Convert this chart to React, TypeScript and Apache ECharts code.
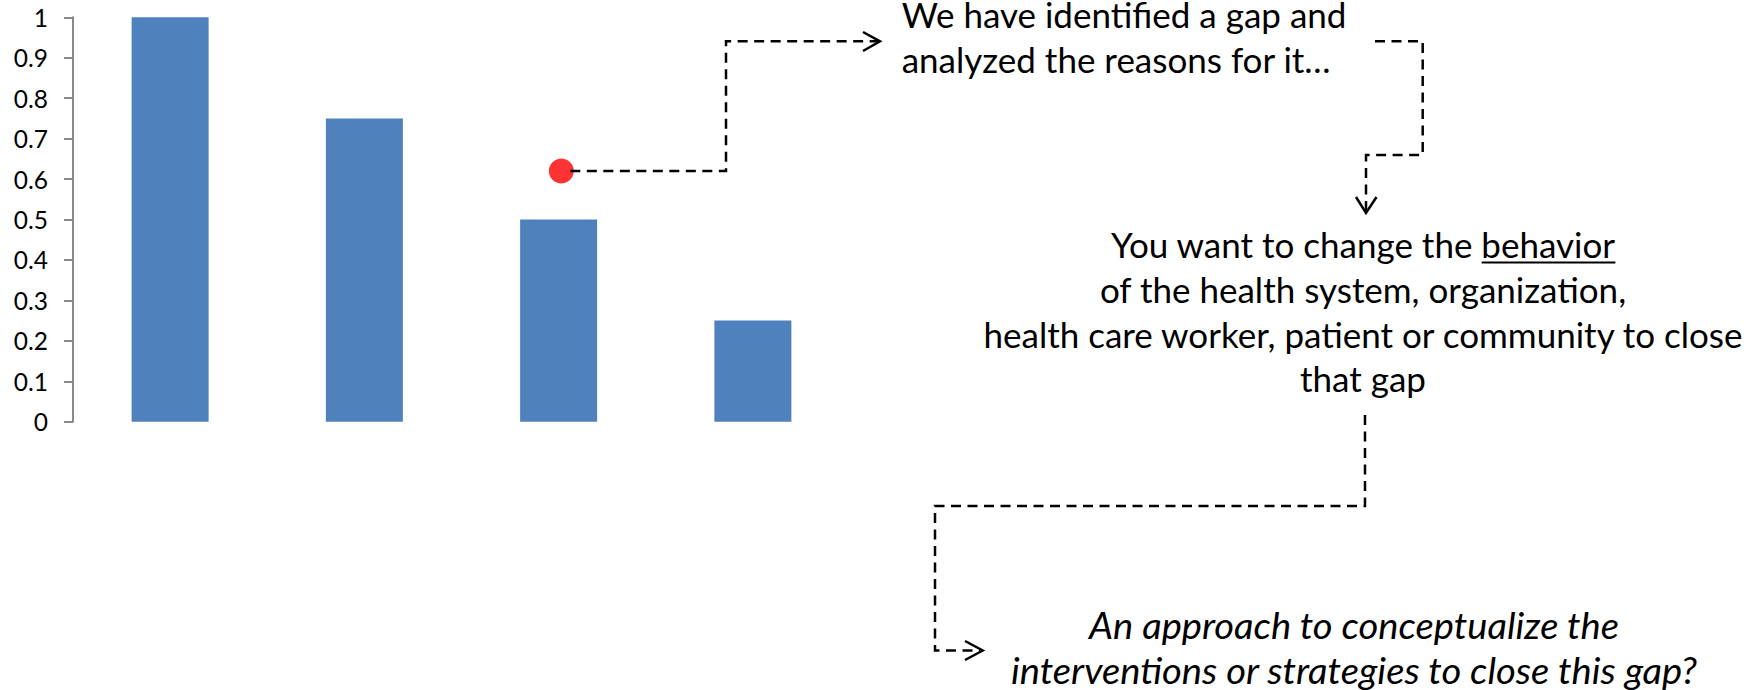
import React, { useEffect, useRef } from "react";
import * as echarts from "echarts";

// Bar chart data
const categories = ["A", "B", "C", "D"];
const barValues = [1, 0.75, 0.5, 0.25];
const yTicks = [0, 0.1, 0.2, 0.3, 0.4, 0.5, 0.6, 0.7, 0.8, 0.9, 1];

// Target marker sitting above the third bar
const markerCategory = "C";
const markerValue = 0.62;

// Flow text
const stepOneLines = ["We have identified a gap and", "analyzed the reasons for it…"];
const stepTwoLines = [
  "You want to change the behavior",
  "of the health system, organization,",
  "health care worker, patient or community to close",
  "that gap",
];
const underlinedWord = "behavior";
const stepThreeLines = [
  "An approach to conceptualize the",
  "interventions or strategies to close this gap?",
];

const FONT = "Lato";
const TEXT_SIZE = 35;
const ITALIC_SIZE = 36.5;
const ITALIC_STRETCH = 1.045;
const LINE_GAP = 44.6;
const CENTRAL_TO_BASELINE = 0.387; // central baseline -> alphabetic baseline, in em

const measure = (txt: string, font: string) => {
  const ctx = document.createElement("canvas").getContext("2d")!;
  ctx.font = font;
  return ctx.measureText(txt).width;
};

const dashStyle = { stroke: "#000", lineWidth: 2.5, lineDash: [10, 6.5], fill: null as any };
const arrowStyle = { stroke: "#000", lineWidth: 2.5, fill: null as any };

const textLines = (
  lines: string[],
  x: number,
  firstBaseline: number,
  align: "left" | "center",
  size: number,
  italic = false,
  stretch = 1
) =>
  lines.map((t, i) => ({
    type: "text",
    z: 10,
    x,
    y: firstBaseline - CENTRAL_TO_BASELINE * size + i * LINE_GAP,
    scaleX: stretch,
    style: {
      text: t,
      fill: "#000",
      fontSize: size,
      fontFamily: FONT,
      fontStyle: italic ? "italic" : "normal",
      align,
      textAlign: align,
      verticalAlign: "middle",
      textVerticalAlign: "middle",
    },
  }));

export default function App() {
  const ref = useRef<HTMLDivElement>(null);

  useEffect(() => {
    if (!ref.current) return;
    const chart = echarts.init(ref.current, undefined, { renderer: "svg" });

    chart.setOption({
      animation: false,
      backgroundColor: "#fff",
      grid: { left: 73, right: 904, top: 17.3, bottom: 268.3, containLabel: false },
      xAxis: {
        type: "category",
        data: categories,
        axisLine: { show: false },
        axisTick: { show: false },
        axisLabel: { show: false },
        splitLine: { show: false },
      },
      yAxis: {
        type: "value",
        min: yTicks[0],
        max: yTicks[yTicks.length - 1],
        interval: 0.1,
        axisLine: { show: true, lineStyle: { color: "#898989", width: 2 } },
        axisTick: { show: true, length: 9, lineStyle: { color: "#898989", width: 2 } },
        splitLine: { show: false },
        axisLabel: {
          color: "#000",
          fontSize: 24.5,
          fontFamily: FONT,
          margin: 25,
          formatter: (v: number) => {
            const t = yTicks.find((k) => Math.abs(k - v) < 1e-9);
            return String(t ?? v);
          },
        },
      },
      series: [
        {
          type: "bar",
          data: barValues,
          barWidth: 77,
          itemStyle: { color: "#4F81BD" },
        },
        {
          type: "scatter",
          data: [[markerCategory, markerValue]],
          symbol: "circle",
          symbolSize: 25,
          symbolOffset: [2.7, 0],
          itemStyle: { color: "#FF0000" },
          z: 3,
        },
      ],
    });

    const [px, dy] = chart.convertToPixel({ gridIndex: 0 }, [
      categories.indexOf(markerCategory),
      markerValue,
    ]) as number[];
    const dx = px + 2.7;

    // underline position for the emphasised word on the first line of step two
    const font = `${TEXT_SIZE}px ${FONT}`;
    const centerTwo = 1363;
    const fullW = measure(stepTwoLines[0], font);
    const wordW = measure(underlinedWord, font);
    const lineEnd = centerTwo + fullW / 2;
    const baseTwo = 258;

    const graphic: any[] = [
      // marker -> step one
      {
        type: "polyline",
        z: 10,
        shape: { points: [[dx + 9, dy], [726, dy], [726, 41.3], [878, 41.3]] },
        style: dashStyle,
      },
      {
        type: "polyline",
        z: 10,
        shape: { points: [[863, 32], [880, 41.3], [863, 51]] },
        style: arrowStyle,
      },
      // step one -> step two
      {
        type: "polyline",
        z: 10,
        shape: { points: [[1375, 41.3], [1422.7, 41.3], [1422.7, 155], [1366, 155], [1366, 211]] },
        style: dashStyle,
      },
      {
        type: "polyline",
        z: 10,
        shape: { points: [[1356, 197], [1366, 213], [1376.5, 197]] },
        style: arrowStyle,
      },
      // step two -> step three
      {
        type: "polyline",
        z: 10,
        shape: { points: [[1365, 415], [1365, 506], [935, 506], [935, 650.5], [980, 650.5]] },
        style: dashStyle,
      },
      {
        type: "polyline",
        z: 10,
        shape: { points: [[965, 641], [982.7, 650.5], [965, 660]] },
        style: arrowStyle,
      },
      ...textLines(stepOneLines, 901.7, 28, "left", TEXT_SIZE),
      ...textLines(stepTwoLines, centerTwo, baseTwo, "center", TEXT_SIZE),
      {
        type: "line",
        z: 10,
        shape: { x1: lineEnd - wordW, y1: baseTwo + 4.5, x2: lineEnd, y2: baseTwo + 4.5 },
        style: { stroke: "#000", lineWidth: 2 },
      },
      ...textLines(stepThreeLines, 1354, 639, "center", ITALIC_SIZE, true, ITALIC_STRETCH),
    ];

    chart.setOption({ graphic });

    return () => chart.dispose();
  }, []);

  return (
    <div
      ref={ref}
      style={{ position: "absolute", left: 0, top: 0, width: 1754, height: 690, background: "#fff" }}
    />
  );
}
